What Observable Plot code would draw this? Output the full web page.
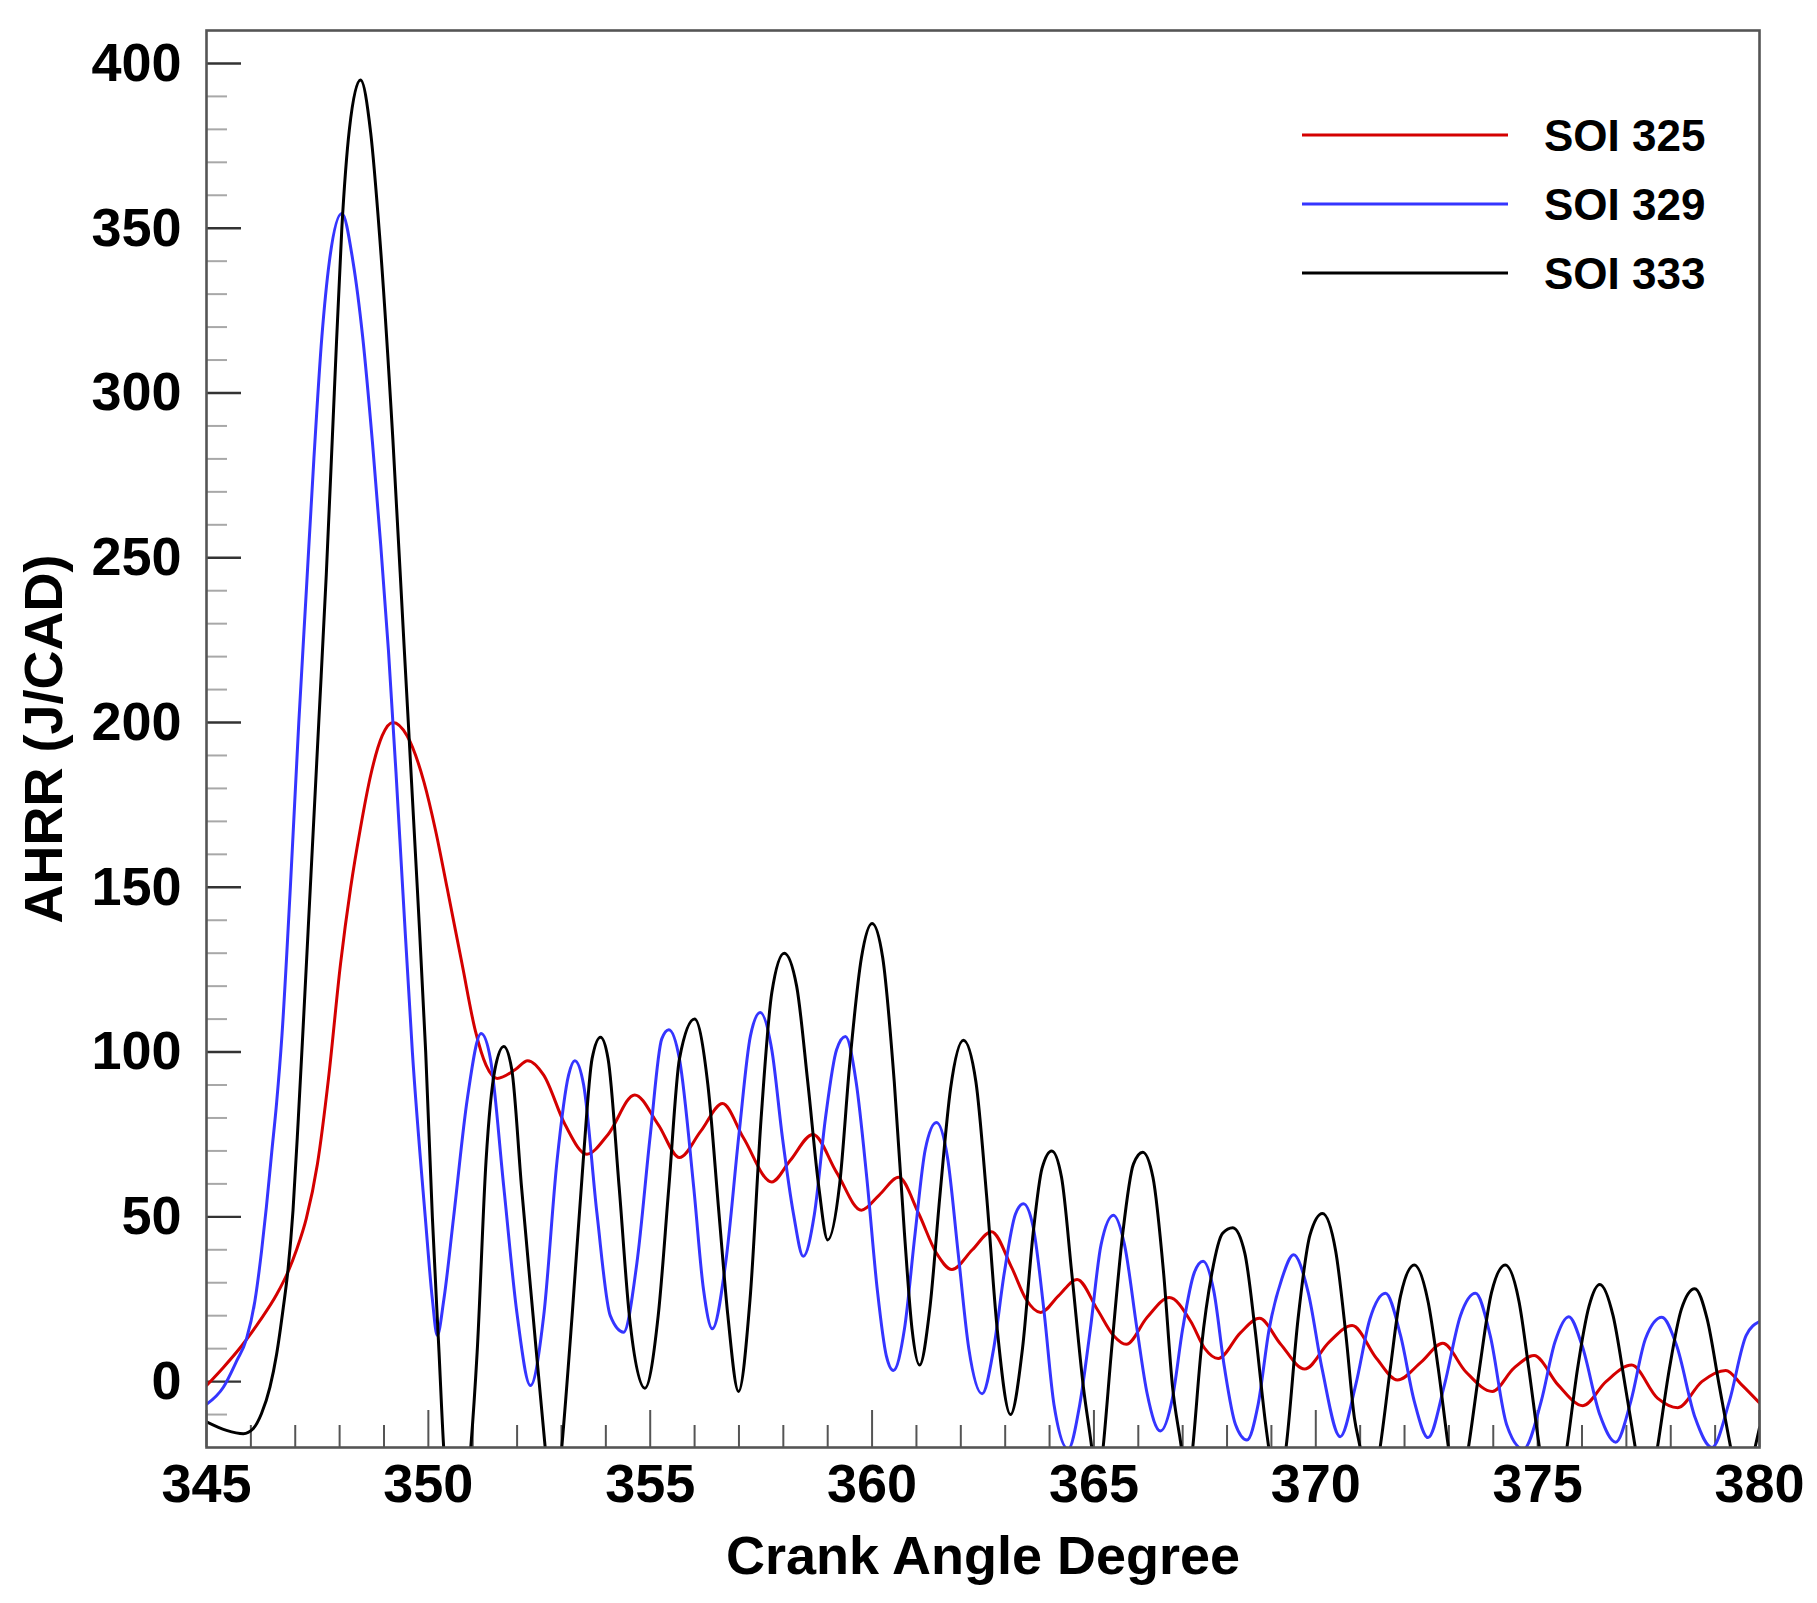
<!DOCTYPE html>
<html><head><meta charset="utf-8">
<script src="https://cdn.jsdelivr.net/npm/d3@7"></script>
<script src="https://cdn.jsdelivr.net/npm/@observablehq/plot@0.6"></script>
<style>
html,body{margin:0;padding:0;background:#fff;overflow:hidden}
#wrap{position:relative;width:1817px;height:1603px}
#legend{position:absolute;left:0;top:0;pointer-events:none}
</style></head>
<body><div id="wrap"></div>
<script>
// ---- data: [crank angle, AHRR] ----
const seriesNames = ["SOI 325", "SOI 329", "SOI 333"];
const seriesColors = ["#d40000", "#3535ff", "#000000"];

const soi325 = [[345.0,-1.2],[345.38,4.3],[345.79,10.8],[346.2,18.4],[346.58,26.4],[346.84,33.4],[347.03,40],[347.25,49.5],[347.5,66],[347.75,92],[348.02,126.7],[348.25,150],[348.47,168],[348.7,184],[348.96,196],[349.2,200],[349.52,196],[349.9,182],[350.16,167.4],[350.42,150],[350.76,126.7],[351.06,106.4],[351.3,96],[351.55,92],[351.96,94.7],[352.24,97.4],[352.6,93],[353.08,78],[353.57,69],[354.05,75],[354.65,87],[355.18,78],[355.66,68],[356.14,76],[356.63,84.4],[357.1,74],[357.74,60.6],[358.15,67],[358.67,75],[359.2,63.5],[359.76,52],[360.16,56.6],[360.6,62],[361.05,51],[361.45,39],[361.8,34],[362.26,40],[362.69,45.5],[363.15,34.5],[363.47,25],[363.8,21],[364.2,26],[364.62,31],[365.08,21.8],[365.44,14],[365.73,11.3],[366.2,19.5],[366.7,25.5],[367.18,18.3],[367.5,10],[367.8,7],[368.3,14.8],[368.73,19.2],[369.2,11.5],[369.75,3.8],[370.3,12],[370.82,17],[371.37,7],[371.84,0.5],[372.38,6],[372.86,11.6],[373.38,3],[373.98,-3],[374.46,4],[374.92,7.9],[375.46,-1],[376.02,-7.3],[376.54,0],[377.12,5],[377.7,-5],[378.16,-7.9],[378.7,0],[379.24,3.4],[379.6,-1],[380.0,-6.5]];

const soi329 = [[345.0,-6.9],[345.38,-1.7],[345.68,6.3],[345.9,12.9],[346.09,24.4],[346.24,39.5],[346.35,53],[346.47,69.6],[346.58,84.6],[346.7,105],[346.89,150],[347.08,200],[347.25,240],[347.42,280],[347.6,317],[347.77,340],[348.05,354.5],[348.3,340],[348.52,317],[348.74,285],[348.92,255],[349.1,222],[349.27,185],[349.42,150],[349.64,100],[349.93,50],[350.09,25],[350.2,14],[350.35,25],[350.57,50],[350.88,86],[351.19,105.6],[351.4,97.8],[351.7,59],[352.0,20.4],[352.3,-1.2],[352.6,20],[352.9,67],[353.16,93],[353.3,97.4],[353.5,90],[353.8,51],[354.1,20],[354.4,15],[354.7,36],[355.0,74.6],[355.26,104],[355.42,106.8],[355.66,97.8],[355.98,59],[356.2,28],[356.4,16],[356.7,36],[357.0,75],[357.26,105],[357.48,112],[357.74,100.7],[357.98,74],[358.23,50.8],[358.45,38],[358.7,50.8],[358.95,80],[359.2,100.7],[359.4,104.7],[359.64,91],[359.88,62],[360.12,27.6],[360.32,7.9],[360.48,3.4],[360.73,16],[360.97,45],[361.2,70.5],[361.45,78.6],[361.7,68],[361.94,39],[362.18,10],[362.48,-3.7],[362.74,10],[362.98,33],[363.23,50.8],[363.41,54],[363.63,47],[363.87,22],[364.1,-7],[364.42,-20.5],[364.68,-7],[364.92,16],[365.16,41.5],[365.44,50.5],[365.69,41.5],[365.97,16],[366.2,-3.7],[366.5,-15],[366.77,-5],[367.0,16],[367.26,33],[367.46,36.5],[367.7,27.6],[367.94,4.4],[368.19,-13],[368.45,-17.7],[368.7,-7],[368.95,16],[369.23,31],[369.5,38.5],[369.83,27],[370.14,4],[370.55,-16.7],[370.9,-1],[371.22,19],[371.57,26.8],[371.91,14],[372.22,-6],[372.53,-17],[372.9,-1],[373.26,20],[373.6,26.8],[373.93,14],[374.3,-13],[374.68,-20.5],[375.08,-6],[375.39,12],[375.7,19.7],[376.0,11],[376.4,-10],[376.76,-18.4],[377.1,-6],[377.43,13],[377.8,19.5],[378.13,11],[378.55,-11],[378.93,-20],[379.32,-6],[379.7,14],[380.0,18.2]];

const soi333 = [[345.0,-12.2],[345.45,-14.8],[345.83,-15.8],[346.05,-14.3],[346.24,-9.7],[346.43,-1.7],[346.58,8.3],[346.73,22.4],[346.84,34.4],[346.95,52],[347.07,80],[347.18,108],[347.34,150],[347.53,200],[347.7,245],[347.88,300],[348.05,350],[348.22,380],[348.47,395],[348.7,379],[348.9,348],[349.2,286],[349.45,224],[349.75,150],[349.94,100],[350.09,50],[350.24,9],[350.35,-21],[350.63,-50],[350.95,-21],[351.1,9],[351.3,67],[351.5,94.7],[351.7,101.7],[351.88,94.7],[352.1,59],[352.36,20],[352.64,-21],[352.82,-45],[353.0,-21],[353.24,20],[353.49,67],[353.69,98],[353.88,104.5],[354.05,98],[354.3,59],[354.53,20],[354.88,-2],[355.18,20],[355.42,59],[355.66,98],[356.0,110],[356.3,90],[356.55,51],[356.75,20],[356.99,-3],[357.25,25],[357.5,80],[357.74,118],[358.02,130],[358.3,120],[358.55,91],[358.8,59],[359.0,43],[359.27,60],[359.5,97],[359.76,128.6],[360.0,139],[360.24,128.6],[360.5,91],[360.73,45],[360.9,16],[361.07,5],[361.3,22],[361.53,56.6],[361.77,89],[362.06,103.6],[362.34,91],[362.58,56.6],[362.82,16],[363.12,-10],[363.39,10],[363.63,45],[363.83,64.7],[364.05,70],[364.27,62],[364.5,33],[364.76,-1.4],[364.96,-21],[365.08,-35],[365.2,-21],[365.4,10],[365.65,45],[365.89,66],[366.1,69.6],[366.33,62],[366.57,33],[366.77,-1.4],[366.98,-21],[367.1,-35],[367.22,-21],[367.42,10],[367.66,33],[367.9,45],[368.13,46.7],[368.4,39],[368.63,16],[368.87,-13],[368.95,-21],[369.14,-35],[369.33,-20],[369.6,19],[369.87,44.5],[370.15,51],[370.45,39.5],[370.68,14],[370.87,-11],[371.0,-20],[371.22,-38],[371.45,-20],[371.68,4],[371.91,26],[372.22,35.4],[372.53,24.3],[372.76,4],[372.99,-20],[373.2,-38],[373.44,-20],[373.69,4],[373.96,27],[374.27,35.4],[374.58,24.3],[374.8,4],[375.04,-20],[375.35,-45],[375.66,-20],[375.9,4],[376.16,23],[376.4,29.5],[376.7,20],[376.97,-1],[377.2,-20],[377.45,-40],[377.7,-20],[377.97,4],[378.24,22],[378.54,28.2],[378.82,19],[379.09,-1],[379.35,-20],[379.63,-38],[379.9,-20],[380.0,-14]];

const xMajorTicks = [345, 350, 355, 360, 365, 370, 375, 380];
const xMinorTicks = [346,347,348,349,351,352,353,354,356,357,358,359,361,362,363,364,366,367,368,369,371,372,373,374,376,377,378,379];
const yMajorTicks = [0, 50, 100, 150, 200, 250, 300, 350, 400];
const yMinorTicks = [-10,10,20,30,40,60,70,80,90,110,120,130,140,160,170,180,190,210,220,230,240,260,270,280,290,310,320,330,340,360,370,380,390];

const xTitle = "Crank Angle Degree";
const yTitle = "AHRR (J/CAD)";

// ---- build table ----
const seriesData = [soi325, soi329, soi333];
const rows = [];
seriesNames.forEach((name, i) => {
  seriesData[i].forEach(([x, y]) => rows.push({series: name, x, y}));
});

// ---- layout ----
const W = 1817, H = 1603;
const mL = 206, mR = 58, mT = 30, mB = 156;
const innerW = W - mL - mR, innerH = H - mT - mB;
const font = "'Liberation Sans', Arial, Helvetica, sans-serif";

const chart = Plot.plot({
  width: W, height: H,
  marginLeft: mL, marginRight: mR, marginTop: mT, marginBottom: mB,
  style: {fontFamily: font, background: "#fff", color: "#000", overflow: "visible"},
  x: {domain: [345, 380]},
  y: {domain: [-20, 410]},
  color: {domain: seriesNames, range: seriesColors},
  marks: [
    Plot.tickY(yMinorTicks, {y: d => d, stroke: "#a8a8a8", strokeWidth: 2, insetRight: innerW - 21}),
    Plot.tickY(yMajorTicks, {y: d => d, stroke: "#333", strokeWidth: 2.4, insetRight: innerW - 35}),
    Plot.tickX(xMinorTicks, {x: d => d, stroke: "#555", strokeWidth: 2, insetTop: innerH - 22}),
    Plot.tickX(xMajorTicks, {x: d => d, stroke: "#555", strokeWidth: 2, insetTop: innerH - 37}),
    Plot.line(rows, {x: "x", y: "y", z: "series", stroke: "series", curve: "monotone-x", strokeWidth: 3, clip: true}),
    Plot.frame({stroke: "#555", strokeWidth: 2.6}),
    Plot.axisY({ticks: yMajorTicks, tickSize: 0, tickPadding: 25, fontSize: 54, fontWeight: "bold", label: null, tickFormat: d => String(d)}),
    Plot.axisX({ticks: xMajorTicks, tickSize: 0, tickPadding: 16, fontSize: 54, fontWeight: "bold", label: null, tickFormat: d => String(d)}),
    Plot.text([xTitle], {text: d => d, frameAnchor: "bottom", dy: 126, lineAnchor: "bottom", fontSize: 54, fontWeight: "bold"}),
    Plot.text([yTitle], {text: d => d, frameAnchor: "left", rotate: -90, dx: -183, lineAnchor: "top", textAnchor: "middle", fontSize: 54, fontWeight: "bold"})
  ]
});

const wrap = document.getElementById("wrap");
wrap.appendChild(chart);

// ---- legend (overlay inside the plot frame, top right) ----
const legX1 = 1302, legX2 = 1508, legTextX = 1544, legY0 = 135, legDY = 69, legFont = 44;
const leg = d3.select(wrap).append("svg")
  .attr("id", "legend").attr("width", W).attr("height", H)
  .style("font-family", font);
const items = leg.selectAll("g").data(seriesNames).join("g")
  .attr("transform", (d, i) => `translate(0,${legY0 + i * legDY})`);
items.append("line")
  .attr("x1", legX1).attr("x2", legX2).attr("y1", 0).attr("y2", 0)
  .attr("stroke", (d, i) => seriesColors[i]).attr("stroke-width", 3.2);
items.append("text")
  .attr("x", legTextX).attr("y", legFont * 0.36)
  .attr("font-size", legFont).attr("font-weight", "bold").attr("fill", "#000")
  .text(d => d);
</script>
</body></html>
